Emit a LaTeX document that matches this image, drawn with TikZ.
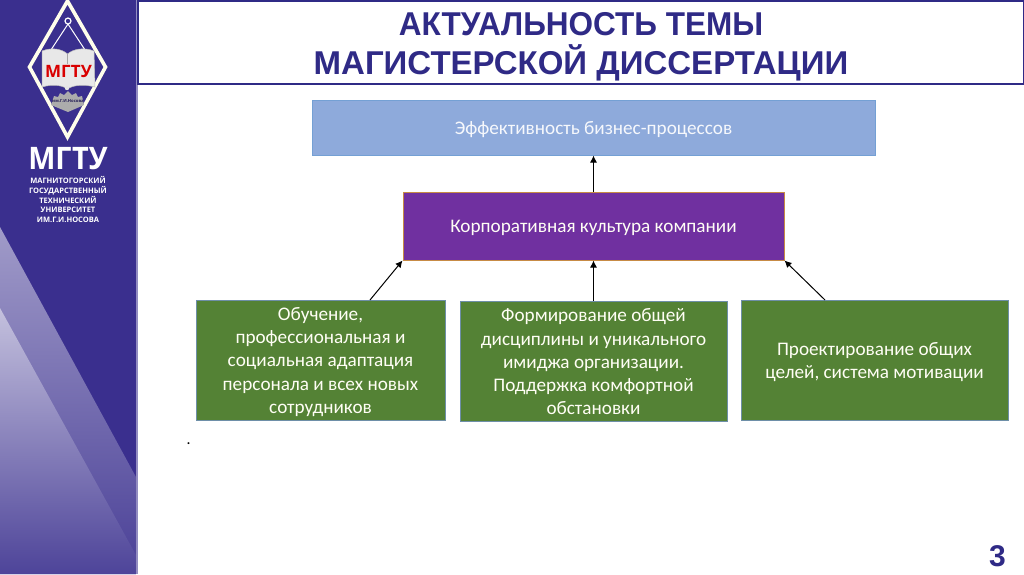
\documentclass[tikz,border=0pt]{standalone}
\usepackage{fontspec}
\setmainfont{Carlito}
\newfontfamily\titlefont{Liberation Sans}
\newfontfamily\titlefontb[FakeStretch=0.955]{Liberation Sans}
\newfontfamily\logofont{Open Sans}
\newfontfamily\logofontb[FakeStretch=0.93]{Open Sans}
\usetikzlibrary{arrows.meta,shapes.geometric}
\definecolor{panel}{HTML}{3A2F8E}
\definecolor{navy}{HTML}{2F2A86}
\definecolor{topfill}{HTML}{8EAADB}
\definecolor{topline}{HTML}{74A0D4}
\definecolor{midfill}{HTML}{7030A0}
\definecolor{midline}{HTML}{C78B45}
\definecolor{greenfill}{HTML}{548235}
\definecolor{greenline}{HTML}{6E8FA8}
\tikzset{
  box/.style={draw,line width=1pt,inner sep=0pt},
  boxtext/.style={inner sep=0pt,align=center,text=white!96!yellow,font=\fontsize{19.2}{23.2}\selectfont},
  greenbox/.style={box,fill=greenfill,draw=greenline},
  link/.style={draw=black,line width=1pt,-{Latex[length=7pt,width=7pt]},shorten >=0pt},
  title/.style={font=\bfseries\fontsize{33}{33}\selectfont,text=navy,inner sep=0pt},
  smalllogo/.style={font=\logofont\bfseries\fontsize{7.5}{9.8}\selectfont,text=white,align=center,inner sep=0pt},
}
\begin{document}
\begin{tikzpicture}[x=1pt,y=-1pt]
\useasboundingbox (0,0) rectangle (1024,574);
\fill[white] (0,0) rectangle (1024,574);
% side panel
\fill[panel] (0,0) rectangle (136,574);
\begin{scope}
\clip (0,227) -- (136,477) -- (136,574) -- (0,574) -- cycle;
\shade[top color=panel!48!white,bottom color=panel!92!white] (0,227) rectangle (136,574);
\end{scope}
\begin{scope}
\clip (0,308) -- (136,555) -- (136,574) -- (0,574) -- cycle;
\shade[top color=panel!30!white,bottom color=panel!90!white] (0,308) rectangle (136,574);
\end{scope}
\fill[panel!55!white] (136,0) rectangle (137.5,574);
% logo
\begin{scope}
\clip (0,0) rectangle (136,574);
\draw[white!92!yellow,line width=3.6pt,line join=miter] (67.5,1) -- (105.5,67) -- (67.5,137) -- (29.5,67) -- cycle;
\end{scope}
\draw[white,line width=1pt] (68,24) -- (47,56) (68,24) -- (89,56);
\draw[white,line width=1.2pt] (68,21) circle (3);
\fill[white!82!gray,draw=gray!50,line width=.5pt] (42,51) .. controls (52,47) and (62,49) .. (67.5,54) .. controls (73,49) and (84,47) .. (94,51) -- (95,87) .. controls (84,84) and (73,85) .. (67.5,89) .. controls (62,85) and (52,84) .. (42,87) -- cycle;
\draw[gray!70,line width=.6pt] (67.5,54) -- (67.5,64);
\node[inner sep=0pt,font=\logofont\bfseries\fontsize{17}{17}\selectfont,text=red!85!black] (logored) at (68.5,72) {МГТУ};
\fill[gray!65] (51,105) -- (54,96) -- (58,97) -- (60,93) -- (64,95) -- (68,91) -- (72,95) -- (76,93) -- (78,97) -- (82,96) -- (84,105) -- (68,112) -- cycle;
\fill[white!80!gray] (67,88) circle (2.2);
\node[inner sep=0pt,font=\logofont\bfseries\fontsize{4.2}{4.2}\selectfont,text=panel!60!black,rotate=0] (logoname) at (68,101.5) {им.Г.И.Носова};
\node[inner sep=0pt,font=\logofontb\bfseries\fontsize{31}{31}\selectfont,text=white] (mgtu) at (68,159) {МГТУ};
\node[smalllogo] (univ) at (68,199.5) {МАГНИТОГОРСКИЙ\\ГОСУДАРСТВЕННЫЙ\\ТЕХНИЧЕСКИЙ\\УНИВЕРСИТЕТ\\ИМ.Г.И.НОСОВА};
% title
\node[draw=navy,line width=1.6pt,fill=white,minimum width=886pt,minimum height=83pt,inner sep=0pt] (titlebox) at (581,42.5) {};
\node[title] (t1) at (581,24) {\titlefontb АКТУАЛЬНОСТЬ ТЕМЫ};
\node[title] (t2) at (581,63) {\titlefont МАГИСТЕРСКОЙ ДИССЕРТАЦИИ};
% diagram
\node[box,fill=topfill,draw=topline,minimum width=563pt,minimum height=55pt] (top) at (593.5,127.5) {};
\node[boxtext,text=white!92!topfill] (toptext) at ([yshift=-1.8pt]top.center) {Эффективность бизнес-процессов};
\node[box,fill=midfill,draw=midline,minimum width=381pt,minimum height=68pt] (mid) at (593.5,226) {};
\node[boxtext] (midtext) at ([yshift=-2.2pt]mid.center) {Корпоративная культура компании};
\node[greenbox,minimum width=249pt,minimum height=120pt] (g1) at (320.5,360) {};
\node[boxtext] (g1text) at ([yshift=-2pt]g1.center) {Обучение,\\профессиональная и\\социальная адаптация\\персонала и всех новых\\сотрудников};
\node[greenbox,minimum width=267pt,minimum height=120pt] (g2) at (593.5,361) {};
\node[boxtext] (g2text) at ([yshift=-.8pt]g2.center) {Формирование общей\\дисциплины и уникального\\имиджа организации.\\Поддержка комфортной\\обстановки};
\node[greenbox,minimum width=267pt,minimum height=120pt] (g3) at (874.5,360) {};
\node[boxtext] (g3text) at ([yshift=-2.4pt]g3.center) {Проектирование общих\\целей, система мотивации};
\coordinate (a1) at (370,300);
\coordinate (a3) at (825,300);
\draw[link] (mid.north) -- (top.south);
\draw[link] (g2.north) -- (mid.south);
\draw[link] (a1) -- (mid.south west);
\draw[link] (a3) -- (mid.south east);
\node[inner sep=0pt,font=\bfseries\fontsize{13}{13}\selectfont,text=black] (dot) at (188.5,444) {.};
\node[inner sep=0pt,font=\titlefont\bfseries\fontsize{30}{30}\selectfont,text=navy] (num) at (997.5,556) {3};
\end{tikzpicture}
\end{document}
